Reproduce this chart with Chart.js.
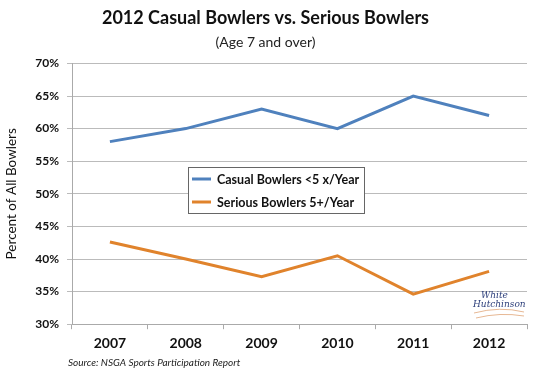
<!DOCTYPE html>
<html><head><meta charset="utf-8">
<script src="https://cdn.jsdelivr.net/npm/chart.js@4/dist/chart.umd.min.js"></script>
<style>html,body{margin:0;padding:0;background:#fff}#wrap{width:540px;height:372px;position:relative}</style>
</head><body><div id="wrap"><canvas id="c" width="540" height="372"></canvas></div>
<script>
const years = ['2007','2008','2009','2010','2011','2012'];
const casual = [58, 60, 63, 60, 65, 62];
const serious = [42.6, 40, 37.3, 40.5, 34.6, 38.1];
const seriesNames = ['Casual Bowlers <5 x/Year', 'Serious Bowlers 5+/Year'];
const FONT = 'Lato, "Open Sans", sans-serif';

const overlay = {
  id: 'overlay',
  afterDraw(chart) {
    const ctx = chart.ctx;
    ctx.save();
    // legend box
    const lx = 188, ly = 167, lw = 176, lh = 46;
    ctx.fillStyle = '#fff';
    ctx.fillRect(lx, ly, lw, lh);
    ctx.strokeStyle = '#666';
    ctx.lineWidth = 1;
    ctx.strokeRect(lx + 0.5, ly + 0.5, lw, lh);
    chart.data.datasets.forEach((d, i) => {
      const y = ly + 12 + i * 23;
      ctx.strokeStyle = d.borderColor;
      ctx.lineWidth = 3;
      ctx.beginPath(); ctx.moveTo(lx + 4, y); ctx.lineTo(lx + 23, y); ctx.stroke();
      ctx.fillStyle = '#111';
      ctx.font = 'bold 12.5px ' + FONT;
      ctx.textBaseline = 'middle';
      ctx.fillText(d.label, lx + 29, y + 1);
    });
    // source
    ctx.fillStyle = '#222';
    ctx.font = 'italic 10px ' + FONT;
    ctx.textBaseline = 'middle';
    ctx.fillText('Source: NSGA Sports Participation Report', 68, 363);
    // logo text
    ctx.fillStyle = '#2c3e7a';
    ctx.font = 'italic 9px "DejaVu Serif", serif';
    ctx.fillText('White', 481, 296);
    ctx.fillText('Hutchinson', 473, 305);
    ctx.strokeStyle = '#e7b894';
    ctx.lineWidth = 1;
    ctx.beginPath(); ctx.moveTo(474, 313); ctx.quadraticCurveTo(500, 306, 524, 312); ctx.stroke();
    ctx.beginPath(); ctx.moveTo(476, 318); ctx.quadraticCurveTo(500, 312, 524, 316); ctx.stroke();
    ctx.restore();
  }
};

new Chart(document.getElementById('c'), {
  type: 'line',
  data: {
    labels: years,
    datasets: [
      { label: seriesNames[0], data: casual, borderColor: '#4f81bd', borderWidth: 3, pointRadius: 0, tension: 0, fill: false },
      { label: seriesNames[1], data: serious, borderColor: '#e0832c', borderWidth: 3, pointRadius: 0, tension: 0, fill: false }
    ]
  },
  options: {
    responsive: false,
    animation: false,
    layout: { padding: { left: 4, right: 13, top: 0, bottom: 14 } },
    plugins: {
      legend: { display: false },
      tooltip: { enabled: false },
      title: { display: true, text: '2012 Casual Bowlers vs. Serious Bowlers', color: '#111',
        font: { family: FONT, size: 18, weight: 'bold' }, padding: { top: 7, bottom: 5 } },
      subtitle: { display: true, text: '(Age 7 and over)', color: '#222',
        font: { family: FONT, size: 14 }, padding: { top: 0, bottom: 13 } }
    },
    scales: {
      x: {
        offset: true,
        grid: { display: true, drawOnChartArea: false, drawTicks: true, offset: true, tickLength: 5, color: '#aaa' },
        border: { color: '#aaa', width: 1 },
        ticks: { color: '#111', font: { family: FONT, size: 14, weight: 'bold' }, padding: 6 }
      },
      y: {
        min: 30, max: 70,
        afterFit(s) { s.width = 68; },
        grid: { color: '#bbb', tickLength: 5, drawTicks: true },
        border: { color: '#aaa', width: 1 },
        ticks: { stepSize: 5, color: '#111', font: { family: FONT, size: 12, weight: 'bold' }, padding: 8,
          callback: v => v + '%' },
        title: { display: true, text: 'Percent of All Bowlers', color: '#111',
          font: { family: FONT, size: 13.5 }, padding: { top: 0, bottom: 4 } }
      }
    }
  },
  plugins: [overlay]
});
</script></body></html>
